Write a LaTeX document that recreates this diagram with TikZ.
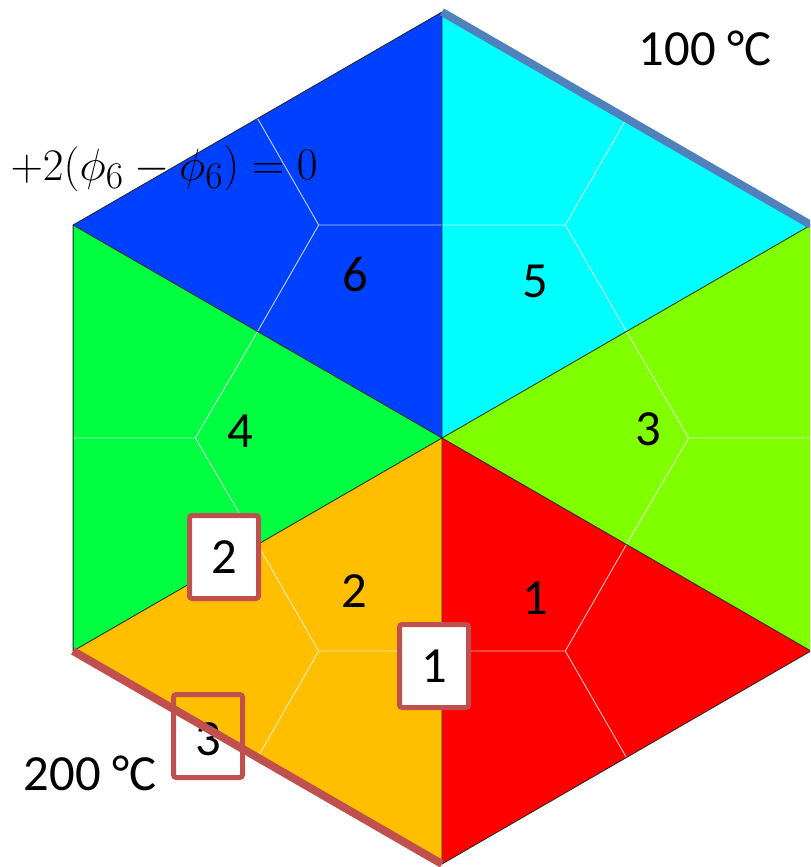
\documentclass[tikz,border=0pt]{standalone}
\usepackage{fontspec}
\setmainfont{Carlito}
\usetikzlibrary{calc}
\begin{document}
\begin{tikzpicture}[x=0.75pt,y=-0.75pt,
  cblue/.style={fill={rgb,255:red,0;green,64;blue,255}},
  ccyan/.style={fill={rgb,255:red,0;green,255;blue,255}},
  clime/.style={fill={rgb,255:red,128;green,255;blue,0}},
  cred/.style={fill={rgb,255:red,255;green,0;blue,0}},
  corange/.style={fill={rgb,255:red,255;green,190;blue,0}},
  cgreen/.style={fill={rgb,255:red,0;green,255;blue,64}},
  edgeline/.style={draw=black!85,line width=0.6pt},
  dual/.style={draw=white,line width=0.7pt,opacity=0.75},
  lbl/.style={font=\fontsize{38}{45}\selectfont,inner sep=0pt},
  numbox/.style={draw={rgb,255:red,192;green,80;blue,77},line width=3.75pt,rounded corners=2pt,
     minimum width=51.75pt,minimum height=62.25pt,inner sep=0pt,font=\fontsize{38}{45}\selectfont}]
\useasboundingbox (0,0) rectangle (810,867);
\clip (0,0) rectangle (810,867);
% vertices
\coordinate (O) at (442,438);
\coordinate (T) at (442,12);
\coordinate (UR) at (810.9,225);
\coordinate (LR) at (810.9,651);
\coordinate (B) at (442,864);
\coordinate (LL) at (73.1,651);
\coordinate (UL) at (73.1,225);
% triangles
\fill[cblue] (O) -- (T) -- (UL) -- cycle;
\fill[ccyan] (O) -- (T) -- (UR) -- cycle;
\fill[clime] (O) -- (UR) -- (LR) -- cycle;
\fill[cred] (O) -- (LR) -- (B) -- cycle;
\fill[corange] (O) -- (B) -- (LL) -- cycle;
\fill[cgreen] (O) -- (LL) -- (UL) -- cycle;
% centroids
\coordinate (c6) at (318.7,225);
\coordinate (c5) at (565.3,225);
\coordinate (c3) at (688.6,438);
\coordinate (c1) at (565.3,651);
\coordinate (c2) at (318.7,651);
\coordinate (c4) at (195.4,438);
% dual lines to edge midpoints
\draw[dual] (c6) -- ($(T)!0.5!(UL)$) (c6) -- ($(O)!0.5!(T)$) (c6) -- ($(O)!0.5!(UL)$);
\draw[dual] (c5) -- ($(T)!0.5!(UR)$) (c5) -- ($(O)!0.5!(T)$) (c5) -- ($(O)!0.5!(UR)$);
\draw[dual] (c3) -- ($(UR)!0.5!(LR)$) (c3) -- ($(O)!0.5!(UR)$) (c3) -- ($(O)!0.5!(LR)$);
\draw[dual] (c1) -- ($(LR)!0.5!(B)$) (c1) -- ($(O)!0.5!(LR)$) (c1) -- ($(O)!0.5!(B)$);
\draw[dual] (c2) -- ($(B)!0.5!(LL)$) (c2) -- ($(O)!0.5!(B)$) (c2) -- ($(O)!0.5!(LL)$);
\draw[dual] (c4) -- ($(LL)!0.5!(UL)$) (c4) -- ($(O)!0.5!(LL)$) (c4) -- ($(O)!0.5!(UL)$);
% triangle edges
\draw[edgeline] (T) -- (UR) -- (LR) -- (B) -- (LL) -- (UL) -- cycle;
\draw[edgeline] (O) -- (T) (O) -- (UR) (O) -- (LR) (O) -- (B) (O) -- (LL) (O) -- (UL);
% labels
\node[lbl] (n6) at (355,275) {6};
\node[lbl] (n5) at (535,281) {5};
\node[lbl] (n4) at (240,431) {4};
\node[lbl] (n3) at (648,429) {3};
\node[lbl] (n2) at (354,591) {2};
\node[lbl] (n1) at (535,598) {1};
\node[lbl] (t100) at (705,48) {100 °C};
\node[lbl] (t200) at (90,773) {200 °C};
\node[inner sep=0pt,anchor=base east,font=\Huge,scale=1.36] (eq) at (318,180) {$+2\Bigl(\phi_6-\phi_6\Bigr)=0$};
\node[lbl] (b3t) at (208,739) {3};
% boundary condition edges
\draw[draw={rgb,255:red,79;green,129;blue,189},line width=6pt] (T) -- (UR);
\draw[draw={rgb,255:red,192;green,80;blue,77},line width=6pt] (LL) -- (B);
% boxes
\node[numbox,fill=white] (box2) at (224,557) {2};
\node[numbox,fill=white] (box1) at (434,666) {1};
\node[numbox] (box3) at (208,736) {};
\end{tikzpicture}
\end{document}
